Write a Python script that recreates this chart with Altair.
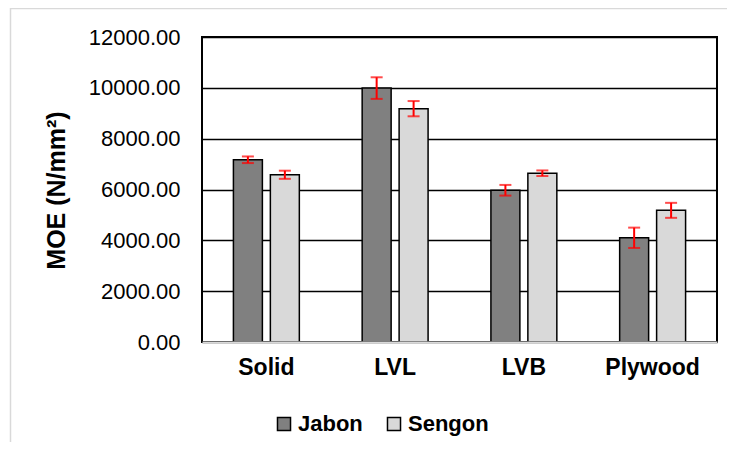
import altair as alt
import pandas as pd

categories = ["Solid", "LVL", "LVB", "Plywood"]
species = ["Jabon", "Sengon"]
jabon = [7170, 9990, 5970, 4100]
sengon = [6580, 9180, 6640, 5180]
jabon_err = [130, 425, 210, 400]
sengon_err = [160, 300, 110, 295]
colors = ["#808080", "#D9D9D9"]

rows = []
for i, c in enumerate(categories):
    rows.append({"category": c, "species": "Jabon", "moe": jabon[i],
                 "lo": jabon[i] - jabon_err[i], "hi": jabon[i] + jabon_err[i]})
    rows.append({"category": c, "species": "Sengon", "moe": sengon[i],
                 "lo": sengon[i] - sengon_err[i], "hi": sengon[i] + sengon_err[i]})
df = pd.DataFrame(rows)

FONT = "Liberation Sans"

x_enc = alt.X("category:N", sort=categories, title=None,
              scale=alt.Scale(paddingInner=0, paddingOuter=0),
              axis=alt.Axis(labelFont=FONT, labelFontSize=23, labelFontWeight="bold",
                            labelColor="black", labelAngle=0, ticks=False, labelPadding=14,
                            domainColor="#d9d9d9", domainWidth=2, grid=False, zindex=2))
xo_enc = alt.XOffset("species:N", sort=species,
                     scale=alt.Scale(paddingInner=0.216, paddingOuter=0.85))

base = alt.Chart(df)

bars = base.mark_bar(stroke="black", strokeWidth=1.5).encode(
    x=x_enc,
    xOffset=xo_enc,
    y=alt.Y("moe:Q", title="MOE (N/mm²)",
            scale=alt.Scale(domain=[0, 12000], nice=False),
            axis=alt.Axis(values=[0, 2000, 4000, 6000, 8000, 10000, 12000], format=".2f",
                          labelFont=FONT, labelFontSize=22, labelColor="black",
                          ticks=False, domain=False, labelPadding=22,
                          gridColor="black", gridWidth=1.5,
                          titleFont=FONT, titleFontSize=25, titleFontWeight="bold",
                          titleColor="black", titleAngle=270, titleX=-146, titleY=153,
                          titleAlign="center", titleBaseline="middle")),
    color=alt.Color("species:N", sort=species,
                    scale=alt.Scale(domain=species, range=colors),
                    legend=alt.Legend(title=None, orient="none", direction="horizontal",
                                      legendX=71, legendY=376,
                                      labelFont=FONT, labelFontSize=22, labelFontWeight="bold",
                                      labelColor="black", symbolType="square", symbolSize=170,
                                      symbolStrokeColor="black", symbolStrokeWidth=1.5,
                                      labelOffset=3, columnPadding=20)),
)

err = base.mark_rule(color="red", strokeWidth=2).encode(
    x=alt.X("category:N", sort=categories),
    xOffset=alt.XOffset("species:N", sort=species),
    y="lo:Q", y2="hi:Q",
)
cap_lo = base.mark_tick(color="red", thickness=2, size=12, orient="horizontal").encode(
    x=alt.X("category:N", sort=categories),
    xOffset=alt.XOffset("species:N", sort=species),
    y="lo:Q",
)
cap_hi = base.mark_tick(color="red", thickness=2, size=12, orient="horizontal").encode(
    x=alt.X("category:N", sort=categories),
    xOffset=alt.XOffset("species:N", sort=species),
    y="hi:Q",
)

one = alt.Data(values=[{"a": 1}])

frame = alt.Chart(one).mark_rect(
    filled=False, stroke="#d9d9d9", strokeWidth=1.5).encode(
    x=alt.value(-191.5), x2=alt.value(600), y=alt.value(-28.5), y2=alt.value(500)
)

plot_box = alt.Chart(one).mark_rect(
    filled=False, stroke="black", strokeWidth=2).encode(
    x=alt.value(0), x2=alt.value(515), y=alt.value(0), y2=alt.value(305)
)

chart = alt.layer(frame, plot_box, bars, err, cap_lo, cap_hi).properties(
    width=515, height=305,
    autosize=alt.AutoSizeParams(type="none"),
    padding={"left": 194, "top": 29, "right": 10, "bottom": 100},
).configure_view(stroke="black", strokeWidth=1.5).configure(background="white")

chart.save("out.html", embed_options={"renderer": "svg", "actions": False})
